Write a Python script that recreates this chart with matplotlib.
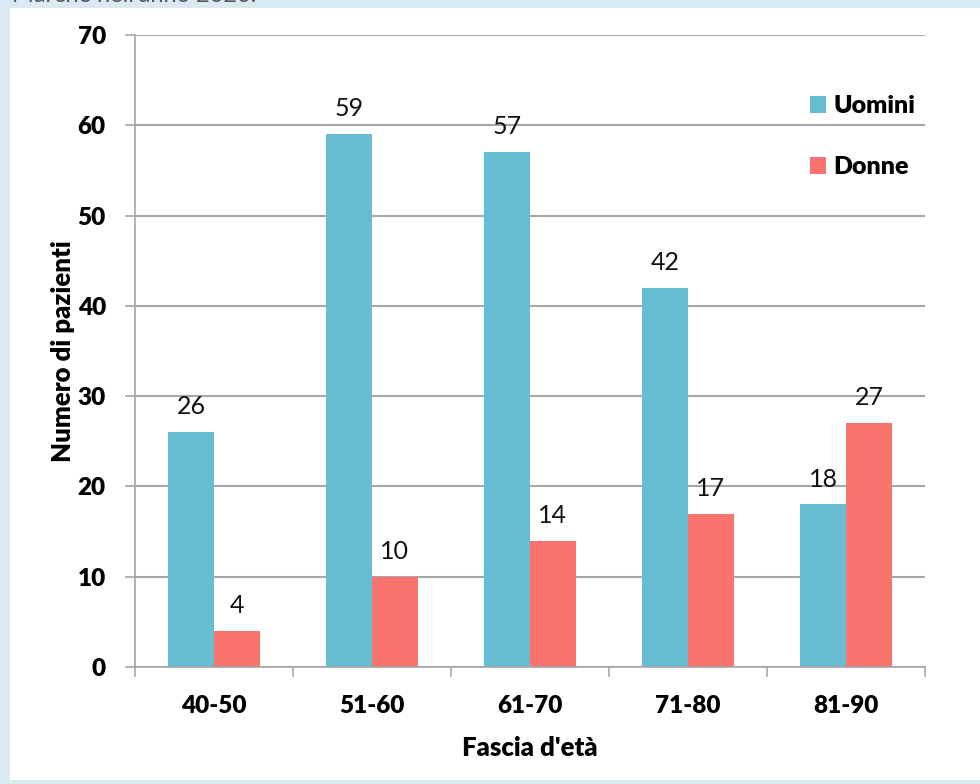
import numpy as np
import matplotlib.pyplot as plt
from matplotlib.patches import Rectangle

plt.rcParams['font.family'] = ['Lato', 'DejaVu Sans']

fasce = ['40-50', '51-60', '61-70', '71-80', '81-90']
uomini = [26, 59, 57, 42, 18]
donne = [4, 10, 14, 17, 27]

c_uomini = '#66BCD0'
c_donne = '#FA736F'
grid_c = '#A6A6A6'

fig = plt.figure(figsize=(9.8, 7.84), dpi=100)
fig.patch.set_facecolor('#D9EAF2')
# white panel of the screenshot
fig.patches.append(Rectangle((10 / 980, 4 / 784), 1 - 10 / 980, (784 - 8 - 4) / 784,
                             transform=fig.transFigure, facecolor='white',
                             edgecolor='none', zorder=-5))
fig.text(12 / 980, 1.006, "Marche nell'anno 2020.", fontsize=17, color='#555555',
         ha='left', va='center', zorder=-4)

ax = fig.add_axes([135 / 980, 117 / 784, 790 / 980, 632 / 784])
ax.set_facecolor('white')
x = np.arange(len(fasce))
w = 0.29
b1 = ax.bar(x - w / 2, uomini, w, color=c_uomini, label='Uomini', zorder=2)
b2 = ax.bar(x + w / 2, donne, w, color=c_donne, label='Donne', zorder=2)

for bars, vals in ((b1, uomini), (b2, donne)):
    for r, v in zip(bars, vals):
        ax.annotate(str(v), (r.get_x() + r.get_width() / 2, v), xytext=(0, 10),
                    textcoords='offset points', ha='center', va='bottom',
                    fontsize=18, color='#111111', zorder=3)

ax.set_xlim(-0.5, len(fasce) - 0.5)
ax.set_ylim(0, 70)
ax.set_yticks(range(0, 71, 10))
ax.set_xticks(x)
ax.set_xticklabels(fasce)
ax.set_xticks(np.arange(len(fasce) + 1) - 0.5, minor=True)
ax.tick_params(axis='x', which='major', length=0, pad=20)
ax.tick_params(axis='x', which='minor', length=7, color=grid_c, width=1.2)
ax.tick_params(axis='y', length=7, color=grid_c, width=1.2, pad=14)
for lab in ax.get_xticklabels() + ax.get_yticklabels():
    lab.set_fontweight('heavy')
    lab.set_fontsize(17.5)

ax.grid(axis='y', color=grid_c, linewidth=1.5, zorder=0)
ax.set_axisbelow(True)
for s in ['top', 'right']:
    ax.spines[s].set_visible(False)
for s in ['left', 'bottom']:
    ax.spines[s].set_color(grid_c)
    ax.spines[s].set_linewidth(1.2)

ax.set_xlabel("Fascia d'età", fontsize=18.5, fontweight='heavy', labelpad=14)
ax.set_ylabel('Numero di pazienti', fontsize=18.5, fontweight='heavy', labelpad=2)

ax.legend(loc='upper right', bbox_to_anchor=(1.016, 0.94), frameon=False,
          handlelength=0.65, handleheight=0.65, handletextpad=0.3,
          labelspacing=1.55, prop={'weight': 'heavy', 'size': 18})

fig.savefig('out.png', dpi=100, facecolor=fig.get_facecolor())
